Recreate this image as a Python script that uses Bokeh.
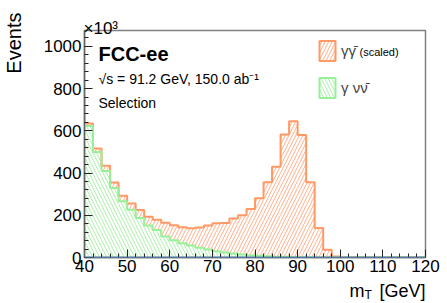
import numpy as np
from math import pi
from bokeh.plotting import figure
from bokeh.models import Range1d, FixedTicker, Label, Legend, LegendItem, Span
from bokeh.embed import file_html
from bokeh.resources import INLINE

# ---------------- data ----------------
bin_edges = [38, 40, 42, 44, 46, 48, 50, 52, 54, 56, 58, 60, 62, 64, 66, 68, 70, 72, 74, 76, 78,
             80, 82, 84, 86, 88, 90, 92, 94, 96, 98, 100, 102, 104, 106, 108, 110, 112, 114, 116, 118, 120]
# gamma nu nubar (bottom of stack), in units of 10^3 events
gnn = [750, 623, 500, 410, 329, 266, 226, 187, 151, 130, 100, 82, 68, 57, 46, 38, 30, 24, 19, 14, 11,
       8, 6, 4, 3, 2, 1, 1, 0, 0, 0, 0, 0, 0, 0, 0, 0, 0, 0, 0, 0]
# gamma gamma (scaled), stacked on top
ggs = [7, 11, 16, 24, 26, 26, 30, 38, 42, 49, 65, 71, 75, 81, 96, 114, 132, 139, 166, 186, 219,
       273, 350, 426, 580, 643, 579, 355, 140, 37, 5, 0, 0, 0, 0, 0, 0, 0, 0, 0, 0]
x_ticks = [40, 50, 60, 70, 80, 90, 100, 110, 120]
y_ticks = [0, 200, 400, 600, 800, 1000]

# ---------------- styles ----------------
FONT = "Liberation Sans"
OR_LINE, OR_HATCH = "#ff9966", "#ffae88"
GR_LINE, GR_HATCH = "#99f099", "#aaeeaa"

lo = np.array(bin_edges[:-1], float)
hi = np.array(bin_edges[1:], float)
g = np.array(gnn, float)
tot = g + np.array(ggs, float)

X0, X1, YMAX = 40, 120, 1075
W, H = 447, 303
FL, FR, FT, FB = 84, 425, 30, 257  # frame in figure pixels

p = figure(width=W, height=H, output_backend="svg", toolbar_location=None,
           x_range=Range1d(X0, X1), y_range=Range1d(0, YMAX),
           min_border_left=FL, min_border_right=W - FR, min_border_top=FT, min_border_bottom=H - FB)
p.xgrid.visible = False
p.ygrid.visible = False
p.outline_line_color = "#808080"
p.outline_line_width = 1.5
p.background_fill_color = "white"
p.border_fill_color = "white"

# hatched fills (stacked)
p.quad(left=lo, right=hi, bottom=g, top=tot, fill_alpha=0, line_alpha=0,
       hatch_pattern="/", hatch_color=OR_HATCH, hatch_scale=7, hatch_weight=1)
p.quad(left=lo, right=hi, bottom=0, top=g, fill_alpha=0, line_alpha=0,
       hatch_pattern="\\", hatch_color=GR_HATCH, hatch_scale=7, hatch_weight=1)

def outline(vals):
    xs = np.column_stack([lo, hi]).ravel()
    ys = np.column_stack([vals, vals]).ravel()
    return xs, ys

xo, yo = outline(tot)
p.line(xo, yo, line_color=OR_LINE, line_width=2)
xg, yg = outline(g)
p.line(xg, yg, line_color=GR_LINE, line_width=2)

p.add_layout(Span(location=0, dimension="width", line_color="#4a86d8", line_width=1.5))

# axes
for ax in (p.xaxis[0], p.yaxis[0]):
    ax.major_tick_in = 8
    ax.major_tick_out = 0
    ax.minor_tick_in = 4
    ax.minor_tick_out = 0
    ax.axis_line_color = "#666666"
    ax.axis_line_width = 1.5
    ax.major_tick_line_color = "#222222"
    ax.minor_tick_line_color = "#222222"
    ax.major_label_text_font = FONT
    ax.major_label_text_font_size = "17px"
    ax.major_label_text_color = "black"
p.xaxis.ticker = FixedTicker(ticks=x_ticks, minor_ticks=list(range(42, 120, 2)))
p.yaxis.ticker = FixedTicker(ticks=y_ticks, minor_ticks=list(range(40, 1080, 40)))
p.xaxis.major_label_standoff = 2
p.yaxis.major_label_standoff = 3

# helpers converting page-pixel positions to data positions
def xd(px):
    return X0 + (px - FL) * (X1 - X0) / (FR - FL)

def yd(py):
    return (FB - py) * YMAX / (FB - FT)

def lab(text, px, py, size, align="left", base="alphabetic", bold=False, angle=0.0, place=None):
    lbl = Label(x=xd(px), y=yd(py), text=text, text_font=FONT, text_font_size=size,
                text_align=align, text_baseline=base, angle=angle,
                text_font_style="bold" if bold else "normal", text_color="black")
    if place is None:
        p.add_layout(lbl)
    else:
        p.add_layout(lbl, place)

# texts outside the frame go into side panels (so they are not clipped to the frame);
# at most one per panel side so that the frame keeps its size
lab("Events", 13, 12, "20px", align="right", base="middle", angle=pi / 2, place="left")
lab("×10³", 83, 28, "17px", place="above")
lab("m\u00a0\u00a0\u00a0[GeV]", 425, 290, "18px", align="right", place="below")
lab("T", 364, 294, "12px", place="right")
# texts inside the frame
lab("FCC-ee", 98, 53, "20px", bold=True)
lab("√s = 91.2 GeV, 150.0 ab⁻¹", 98, 78, "14px")
lab("Selection", 98, 102, "14px")
lab("(scaled)", 359, 51, "11px", base="middle")

# legend (style-only renderers, their single row is NaN so nothing is drawn in the frame)
nan = [float("nan")]
r_o = p.quad(left=nan, right=nan, top=nan, bottom=nan, fill_alpha=0, line_color=OR_LINE, line_width=2,
             hatch_pattern="/", hatch_color=OR_HATCH, hatch_scale=7, hatch_weight=1)
r_g = p.quad(left=nan, right=nan, top=nan, bottom=nan, fill_alpha=0, line_color=GR_LINE, line_width=2,
             hatch_pattern="\\", hatch_color=GR_HATCH, hatch_scale=7, hatch_weight=1)
legend = Legend(items=[LegendItem(label="γγ̄", renderers=[r_o]),
                       LegendItem(label="γ νν̄", renderers=[r_g])],
                location=(233, 157), glyph_width=20, glyph_height=25, spacing=12,
                padding=0, margin=0, label_standoff=4, border_line_alpha=0,
                background_fill_alpha=0, label_text_font=FONT, label_text_font_size="15px")
p.add_layout(legend)

open("out.html", "w").write(file_html(p, INLINE))
